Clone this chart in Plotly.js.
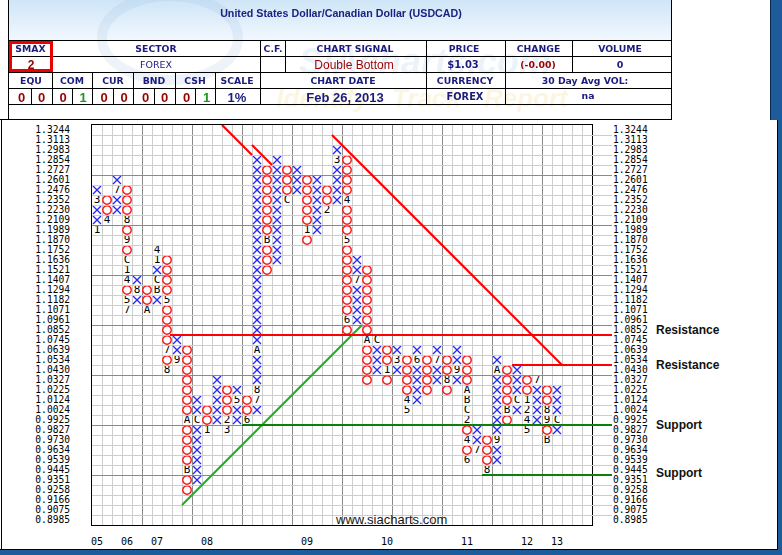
<!DOCTYPE html>
<html>
<head>
<meta charset="utf-8">
<script src="https://cdn.plot.ly/plotly-3.0.1.min.js"></script>
<style>
html,body{margin:0;padding:0;background:#fff;}
#wrap{position:relative;width:782px;height:555px;overflow:hidden;background:#fff;}
#chart{position:absolute;left:0;top:0;width:782px;height:555px;z-index:1;}
#hdr{position:absolute;left:0;top:0;width:782px;height:120px;z-index:2;}
#wm{position:absolute;left:0;top:0;}
.ln{position:absolute;background:#000;}
.t{position:absolute;transform:translate(-50%,-50%);white-space:nowrap;line-height:1;}
.lab{font-family:'DejaVu Sans',Verdana,sans-serif;font-weight:bold;font-size:9.3px;color:#1b1b7d;}
.dr{color:#9a0000;}
.gr{color:#1a9a1a;}
.big{font-family:'Liberation Sans',Arial,sans-serif;font-weight:bold;font-size:13px;}
.frame{position:absolute;z-index:3;}
</style>
</head>
<body>
<div id="wrap">
  <div id="chart"></div>
  <div id="hdr">
    <div style="position:absolute;left:8px;top:0;width:664px;height:40px;background:linear-gradient(#cfe5f7,#f1f8fe);"></div>
    <canvas id="wm" width="782" height="120"></canvas>

    <div class="t" style="left:341px;top:13px;font-family:'Liberation Sans',Arial,sans-serif;font-weight:bold;font-size:10.7px;color:#1b2380;">United States Dollar/Canadian Dollar (USDCAD)</div>

    <!-- table lines -->
    <div class="ln" style="left:8px;top:0;width:1px;height:119px;"></div>
    <div class="ln" style="left:671px;top:0;width:1px;height:119px;"></div>
    <div class="ln" style="left:8px;top:40px;width:664px;height:1px;"></div>
    <div class="ln" style="left:8px;top:56px;width:664px;height:1px;"></div>
    <div class="ln" style="left:8px;top:72px;width:664px;height:1px;"></div>
    <div class="ln" style="left:8px;top:88px;width:664px;height:1px;"></div>
    <div class="ln" style="left:8px;top:104px;width:664px;height:1px;"></div>
    <div class="ln" style="left:0;top:119px;width:672px;height:1px;"></div>
    <div class="ln" style="left:52px;top:40px;width:1px;height:64px;"></div>
    <div class="ln" style="left:260px;top:40px;width:1px;height:64px;"></div>
    <div class="ln" style="left:285px;top:40px;width:1px;height:32px;"></div>
    <div class="ln" style="left:426px;top:40px;width:1px;height:64px;"></div>
    <div class="ln" style="left:505px;top:40px;width:1px;height:64px;"></div>
    <div class="ln" style="left:572px;top:40px;width:1px;height:32px;"></div>
    <div class="ln" style="left:92px;top:72px;width:1px;height:32px;"></div>
    <div class="ln" style="left:133px;top:72px;width:1px;height:32px;"></div>
    <div class="ln" style="left:175px;top:72px;width:1px;height:32px;"></div>
    <div class="ln" style="left:215px;top:72px;width:1px;height:32px;"></div>
    <div class="ln" style="left:31px;top:88px;width:1px;height:16px;"></div>
    <div class="ln" style="left:72px;top:88px;width:1px;height:16px;"></div>
    <div class="ln" style="left:113px;top:88px;width:1px;height:16px;"></div>
    <div class="ln" style="left:154px;top:88px;width:1px;height:16px;"></div>
    <div class="ln" style="left:195px;top:88px;width:1px;height:16px;"></div>
    <div style="position:absolute;left:9px;top:41px;width:44px;height:31px;border:3px solid #ee0000;box-sizing:border-box;"></div>

    <!-- row 1 -->
    <div class="t lab" style="left:30.5px;top:48.5px;">SMAX</div>
    <div class="t lab" style="left:156px;top:48.5px;">SECTOR</div>
    <div class="t lab" style="left:273px;top:48.5px;">C.F.</div>
    <div class="t lab" style="left:355px;top:48.5px;">CHART SIGNAL</div>
    <div class="t lab" style="left:464px;top:48.5px;">PRICE</div>
    <div class="t lab" style="left:538.5px;top:48.5px;">CHANGE</div>
    <div class="t lab" style="left:620px;top:48.5px;">VOLUME</div>
    <!-- row 2 -->
    <div class="t big dr" style="left:31px;top:65px;font-size:12px;">2</div>
    <div class="t lab" style="left:156px;top:65px;font-weight:normal;font-size:9.5px;">FOREX</div>
    <div class="t dr" style="left:354px;top:65px;font-family:'Liberation Sans',Arial,sans-serif;font-size:12px;">Double Bottom</div>
    <div class="t lab" style="left:463px;top:65px;font-size:10px;">$1.03</div>
    <div class="t lab dr" style="left:538px;top:65px;">(-0.00)</div>
    <div class="t lab" style="left:620px;top:65px;font-size:9.5px;">0</div>
    <!-- row 3 -->
    <div class="t lab" style="left:31px;top:80.5px;">EQU</div>
    <div class="t lab" style="left:72px;top:80.5px;">COM</div>
    <div class="t lab" style="left:113px;top:80.5px;">CUR</div>
    <div class="t lab" style="left:154px;top:80.5px;">BND</div>
    <div class="t lab" style="left:195px;top:80.5px;">CSH</div>
    <div class="t lab" style="left:237px;top:80.5px;">SCALE</div>
    <div class="t lab" style="left:343px;top:80.5px;">CHART DATE</div>
    <div class="t lab" style="left:465px;top:80.5px;">CURRENCY</div>
    <div class="t lab" style="left:585px;top:80.5px;">30 Day Avg VOL:</div>
    <!-- row 4 -->
    <div class="t big dr" style="left:21.5px;top:97px;">0</div>
    <div class="t big dr" style="left:41.5px;top:97px;">0</div>
    <div class="t big dr" style="left:63px;top:97px;">0</div>
    <div class="t big gr" style="left:83px;top:97px;">1</div>
    <div class="t big dr" style="left:104px;top:97px;">0</div>
    <div class="t big dr" style="left:124px;top:97px;">0</div>
    <div class="t big dr" style="left:145.5px;top:97px;">0</div>
    <div class="t big dr" style="left:164.5px;top:97px;">0</div>
    <div class="t big dr" style="left:186.5px;top:97px;">0</div>
    <div class="t big gr" style="left:206.5px;top:97px;">1</div>
    <div class="t big" style="left:237px;top:97px;color:#1b1b7d;">1%</div>
    <div class="t big" style="left:345px;top:97px;color:#1b1b7d;">Feb 26, 2013</div>
    <div class="t lab" style="left:465px;top:97px;font-size:9.8px;">FOREX</div>
    <div class="t lab" style="left:588px;top:96px;">na</div>
  </div>
  <!-- outer frame -->
  <div class="frame" style="left:1px;top:119px;width:1px;height:431px;background:#000;"></div>
  <div class="frame" style="left:777px;top:119px;width:1px;height:431px;background:#000;"></div>
  <div class="frame" style="left:770px;top:0;width:1px;height:120px;background:#0a2a50;"></div>
  <div class="frame" style="left:771px;top:0;width:11px;height:120px;background:#1d5c9a;"></div>
  <div class="frame" style="left:778px;top:119px;width:4px;height:436px;background:#1d5c9a;"></div>
  <div class="frame" style="left:0;top:549px;width:778px;height:1px;background:#000;"></div>
  <div class="frame" style="left:0;top:550px;width:782px;height:5px;background:#1d5c9a;"></div>
</div>
<script>
// faint logo watermark (picture, not text content)
(function(){
  const c=document.getElementById('wm').getContext('2d');
  c.strokeStyle='rgba(140,180,220,0.16)';c.lineWidth=10;
  c.beginPath();c.ellipse(170,38,68,42,0,0,Math.PI*2);c.stroke();
  c.font="italic bold 36px 'Liberation Sans', Arial, sans-serif";
  c.fillStyle='rgba(130,170,215,0.15)';c.textAlign='center';c.textBaseline='middle';
  c.fillText('SIAcharts.com',425,64);
  c.font="italic bold 26px 'Liberation Sans', Arial, sans-serif";
  c.fillStyle='rgba(240,200,80,0.18)';
  c.fillText('Identify \u00b7 Track \u00b7 Report',422,100);
})();

// ---- price boxes (1% scale), top to bottom ----
const priceBoxes = [1.3244,1.3113,1.2983,1.2854,1.2727,1.2601,1.2476,1.2352,1.2230,1.2109,
  1.1989,1.1870,1.1752,1.1636,1.1521,1.1407,1.1294,1.1182,1.1071,1.0961,
  1.0852,1.0745,1.0639,1.0534,1.0430,1.0327,1.0225,1.0124,1.0024,0.9925,
  0.9827,0.9730,0.9634,0.9539,0.9445,0.9351,0.9258,0.9166,0.9075,0.8985];
const priceLabels = ['1.3244','1.3113','1.2983','1.2854','1.2727','1.2601','1.2476','1.2352','1.2230','1.2109',
  '1.1989','1.1870','1.1752','1.1636','1.1521','1.1407','1.1294','1.1182','1.1071','1.0961',
  '1.0852','1.0745','1.0639','1.0534','1.0430','1.0327','1.0225','1.0124','1.0024','0.9925',
  '0.9827','0.9730','0.9634','0.9539','0.9445','0.9351','0.9258','0.9166','0.9075','0.8985'];

// ---- year labels under columns ----
const yearCols = [0,3,6,11,21,29,37,43,46];
const yearLabels = ['05','06','07','08','09','10','11','12','13'];

// ---- point & figure columns ----
const colType = ['X','O','X','O','X','O','X','O','X','O','X','O','X','O','X','O',
  'X','O','X','O','X','O','X','O','X','O','X','O','X','O','X','O','X','O','X','O',
  'X','O','X','O','X','O','X','O','X','O','X'];
const colTop = [1.2476,1.2352,1.2601,1.2476,1.1407,1.1294,1.1752,1.1636,1.0745,1.0639,
  1.0124,1.0024,1.0327,1.0225,1.0225,1.0124,1.2854,1.2727,1.2854,1.2727,
  1.2727,1.2601,1.2601,1.2476,1.2983,1.2854,1.1636,1.1521,1.0745,1.0639,
  1.0639,1.0534,1.0639,1.0534,1.0639,1.0534,1.0639,1.0534,0.9827,0.9730,
  1.0534,1.0430,1.0430,1.0327,1.0327,1.0225,1.0225];
const colBottom = [1.1989,1.2109,1.2230,1.1071,1.1182,1.1071,1.1182,1.0430,1.0534,0.9258,
  0.9351,0.9827,0.9925,0.9827,0.9925,0.9925,1.0024,1.1521,1.1636,1.2352,
  1.2476,1.1870,1.1989,1.2230,1.2352,1.0852,1.0961,1.0327,1.0430,1.0327,
  1.0430,1.0024,1.0124,1.0225,1.0327,1.0225,1.0327,0.9539,0.9634,0.9445,
  0.9539,0.9925,1.0024,0.9827,0.9925,0.9730,0.9827];

// ---- month markers (1-9, A=Oct, B=Nov, C=Dec) ----
const monthCol = [0,0,1,2,3,3,3,3,3,3,3,4,5,6,6,6,6,7,7,7,8,9,9,10,11,13,13,14,15,
  16,16,16,17,19,21,23,24,25,25,25,26,27,28,29,30,31,31,32,34,35,36,
  37,37,37,37,37,37,38,39,40,40,41,42,43,43,43,43,44,45,45,45,46];
const monthPrice = [1.2352,1.1989,1.2109,1.2476,1.2109,1.1870,1.1636,1.1521,1.1407,1.1182,1.1071,
  1.1294,1.1071,1.1752,1.1636,1.1407,1.1294,1.1182,1.0639,1.0430,1.0534,0.9925,0.9445,
  0.9925,0.9827,0.9925,0.9827,1.0124,0.9925,1.0639,1.0225,1.0124,1.1870,1.2352,1.1989,
  1.2230,1.2854,1.2352,1.1870,1.0961,1.1407,1.0745,1.0745,1.0430,1.0534,1.0124,1.0024,
  1.0534,1.0534,1.0327,1.0430,1.0225,1.0124,1.0024,0.9925,0.9730,0.9539,0.9634,0.9445,
  1.0430,0.9730,1.0024,1.0124,1.0124,1.0024,0.9925,0.9827,1.0327,1.0024,0.9925,0.9730,0.9925];
const monthText = ['3','1','4','7','8','9','C','1','4','5','7','8','A','4','1','C','B','5','7','8','9',
  'A','B','C','1','2','3','5','6','A','8','7','B','C','1','2','3','4','5','6','7','A','C','1','3',
  '4','5','6','7','8','9','A','B','C','2','4','6','7','8','A','9','B','C','1','2','4','5','7',
  '8','9','B','C'];

// ---- trend lines (column, box-row) ----
const redTrendCols = [[12.5,15.5],[15.5,17.5],[23.5,46.5]];
const redTrendRows = [[-0.5,2.5],[1.5,3.5],[0.5,23.5]];
const greenTrendCols = [[8.5,26.5]];
const greenTrendRows = [[37.5,19.5]];

// ---- support / resistance levels: line sits just under the given box ----
const levelBox = [1.0852,1.0534,0.9925,0.9445];
const levelStartCol = [7.3,41.5,14.5,38.5];
const levelKind = ['Resistance','Resistance','Support','Support'];
const levelEndCol = 51.5;

const rowOf = p => priceBoxes.indexOf(p);

const xX=[], yX=[], xO=[], yO=[];
const labelled = new Set(monthCol.map((c,i)=>c+'_'+rowOf(monthPrice[i])));
for (let c=0;c<colType.length;c++){
  const t=rowOf(colTop[c]), b=rowOf(colBottom[c]);
  for (let r=t;r<=b;r++){
    if (labelled.has(c+'_'+r)) continue;
    if (colType[c]==='X'){xX.push(c);yX.push(r);} else {xO.push(c);yO.push(r);}
  }
}

const traces = [
  {type:'scatter',mode:'markers',x:xX,y:yX,xaxis:'x',yaxis:'y',hoverinfo:'skip',
   marker:{symbol:'x-thin',size:8,line:{width:1.3,color:'#2424ff'}}},
  {type:'scatter',mode:'markers',x:xO,y:yO,xaxis:'x',yaxis:'y',hoverinfo:'skip',
   marker:{symbol:'circle-open',size:8.5,color:'#ff1414',line:{width:1.4}}},
  {type:'scatter',mode:'text',x:monthCol,y:monthPrice.map(rowOf),text:monthText,xaxis:'x',yaxis:'y',hoverinfo:'skip',
   textfont:{family:'DejaVu Sans Mono, monospace',size:11,color:'#000'}},
  // carriers so the label axes are drawn
  {type:'scatter',mode:'markers',x:[yearCols[0]],y:[0],xaxis:'x2',yaxis:'y2',hoverinfo:'skip',marker:{opacity:0}},
  {type:'scatter',mode:'markers',x:[yearCols[0]],y:[0],xaxis:'x',yaxis:'y3',hoverinfo:'skip',marker:{opacity:0}}
];
redTrendCols.forEach((xc,i)=>traces.push({type:'scatter',mode:'lines',x:xc,y:redTrendRows[i],xaxis:'x3',yaxis:'y',
  hoverinfo:'skip',line:{color:'#ff0000',width:2.2}}));
greenTrendCols.forEach((xc,i)=>traces.push({type:'scatter',mode:'lines',x:xc,y:greenTrendRows[i],xaxis:'x3',yaxis:'y',
  hoverinfo:'skip',line:{color:'#22b022',width:2.2}}));
const annotations = [];
const labelShift = [5,0,0,2];
levelBox.forEach((p,i)=>{
  const r = rowOf(p)+0.5;
  const col = levelKind[i]==='Resistance' ? '#ff0000' : '#0a800a';
  traces.push({type:'scatter',mode:'lines',x:[levelStartCol[i],levelEndCol],y:[r,r],xaxis:'x3',yaxis:'y',
    hoverinfo:'skip',line:{color:col,width:2.2}});
  annotations.push({xref:'paper',yref:'y',x:(654-92)/520,y:r,xanchor:'left',yanchor:'middle',yshift:labelShift[i],
    text:levelKind[i],showarrow:false,font:{family:'Liberation Sans, Arial, sans-serif',size:12,color:'#111',weight:'bold'}});
});
annotations.push({xref:'paper',yref:'paper',x:(391-92)/520,y:(525-519)/400,xanchor:'center',yanchor:'middle',
  text:'www.siacharts.com',showarrow:false,font:{family:'Liberation Sans, Arial, sans-serif',size:13,color:'#1a1a1a'}});

const nR = priceBoxes.length;
const rowIdx = priceBoxes.map((p,i)=>i);
const tickFont = {family:'DejaVu Sans Mono, monospace',size:9.6,color:'#000'};
const layout = {
  width:782,height:555,
  margin:{l:92,r:170,t:125,b:30,pad:0},
  paper_bgcolor:'rgba(0,0,0,0)',plot_bgcolor:'rgba(0,0,0,0)',
  showlegend:false,
  xaxis:{domain:[0,500/520],range:[-0.5,49.5],tickmode:'linear',tick0:-0.5,dtick:5,
    showgrid:true,gridcolor:'#8a8a8a',gridwidth:1,showticklabels:false,ticks:'',zeroline:false,
    showline:true,mirror:true,linecolor:'#000',linewidth:1,
    minor:{tickmode:'linear',tick0:-0.5,dtick:1,showgrid:true,gridcolor:'#cdcdcd',gridwidth:1,ticks:''}},
  xaxis2:{overlaying:'x',anchor:'y',side:'bottom',range:[-0.5,49.5],tickmode:'array',tickvals:yearCols,ticktext:yearLabels,
    showgrid:false,zeroline:false,showline:false,ticks:'',ticklabelstandoff:9,tickfont:{family:'DejaVu Sans Mono, monospace',size:10,color:'#000'}},
  xaxis3:{domain:[0,1],anchor:'y',range:[-0.5,levelEndCol],visible:false,fixedrange:true},
  yaxis:{anchor:'x',range:[nR-0.5,-0.5],tickmode:'linear',tick0:-0.5,dtick:5,
    showgrid:true,gridcolor:'#8a8a8a',gridwidth:1,showticklabels:false,ticks:'',zeroline:false,
    showline:true,mirror:true,linecolor:'#000',linewidth:1,
    minor:{tickmode:'linear',tick0:-0.5,dtick:1,showgrid:true,gridcolor:'#cdcdcd',gridwidth:1,ticks:''}},
  yaxis2:{overlaying:'y',anchor:'x',side:'left',range:[nR-0.5,-0.5],tickmode:'array',tickvals:rowIdx,ticktext:priceLabels,
    showgrid:false,zeroline:false,showline:false,ticks:'',ticklabelstandoff:21,tickfont:tickFont},
  yaxis3:{overlaying:'y',anchor:'x',side:'right',range:[nR-0.5,-0.5],tickmode:'array',tickvals:rowIdx,ticktext:priceLabels,
    showgrid:false,zeroline:false,showline:false,ticks:'',ticklabelstandoff:20,tickfont:tickFont},
  annotations:annotations
};
Plotly.newPlot('chart',traces,layout,{staticPlot:true,displayModeBar:false});
</script>
</body>
</html>
